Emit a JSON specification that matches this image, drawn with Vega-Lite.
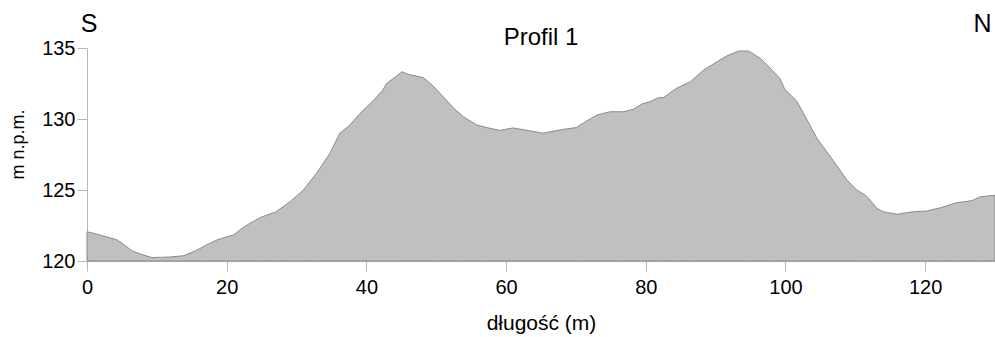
{
  "$schema": "https://vega.github.io/schema/vega-lite/v6.json",
  "width": 908,
  "height": 213,
  "autosize": {"type": "none"},
  "padding": {"left": 87, "top": 48, "right": 0, "bottom": 76},
  "background": "white",
  "title": {"text": "Profil 1", "fontSize": 24, "font": "Liberation Sans", "fontWeight": "normal", "color": "#000000", "anchor": "middle", "frame": "group", "baseline": "alphabetic", "offset": 2, "dy": 59},
  "config": {
    "view": {"stroke": null},
    "axis": {
      "labelFont": "Liberation Sans",
      "titleFont": "Liberation Sans",
      "labelColor": "#000000",
      "titleColor": "#000000",
      "titleFontWeight": "normal",
      "domainColor": "#b8b8b8",
      "tickColor": "#b8b8b8",
      "grid": false,
      "zindex": 1
    }
  },
  "layer": [
    {
      "data": {"values": [
        {"dist": 0, "elev": 122.06}, {"dist": 1.5, "elev": 121.88}, {"dist": 2.8, "elev": 121.7}, {"dist": 4.25, "elev": 121.5},
        {"dist": 5.3, "elev": 121.15}, {"dist": 6.4, "elev": 120.73}, {"dist": 7.6, "elev": 120.5}, {"dist": 9.3, "elev": 120.24},
        {"dist": 10.5, "elev": 120.26}, {"dist": 11.9, "elev": 120.28}, {"dist": 13.8, "elev": 120.37}, {"dist": 15.5, "elev": 120.7},
        {"dist": 17.1, "elev": 121.13}, {"dist": 18.6, "elev": 121.48}, {"dist": 20, "elev": 121.7}, {"dist": 21, "elev": 121.83},
        {"dist": 22, "elev": 122.23}, {"dist": 23.3, "elev": 122.65}, {"dist": 25, "elev": 123.1}, {"dist": 27, "elev": 123.45},
        {"dist": 29, "elev": 124.15}, {"dist": 31, "elev": 125.0}, {"dist": 33, "elev": 126.27}, {"dist": 34.8, "elev": 127.6},
        {"dist": 36.2, "elev": 129.0}, {"dist": 37.5, "elev": 129.5}, {"dist": 39.1, "elev": 130.4}, {"dist": 41, "elev": 131.3},
        {"dist": 42.3, "elev": 132.0}, {"dist": 42.9, "elev": 132.5}, {"dist": 43.9, "elev": 132.87}, {"dist": 45.1, "elev": 133.33},
        {"dist": 46, "elev": 133.15}, {"dist": 48.2, "elev": 132.9}, {"dist": 49.6, "elev": 132.3}, {"dist": 51, "elev": 131.57},
        {"dist": 52.5, "elev": 130.75}, {"dist": 53.9, "elev": 130.16}, {"dist": 55.8, "elev": 129.58}, {"dist": 57.2, "elev": 129.4},
        {"dist": 59.1, "elev": 129.2}, {"dist": 61, "elev": 129.37}, {"dist": 63, "elev": 129.2}, {"dist": 65.3, "elev": 129.0},
        {"dist": 68.2, "elev": 129.27}, {"dist": 70.1, "elev": 129.4}, {"dist": 70.6, "elev": 129.58}, {"dist": 73, "elev": 130.28},
        {"dist": 74.9, "elev": 130.51}, {"dist": 76.8, "elev": 130.51}, {"dist": 78.2, "elev": 130.68}, {"dist": 79.4, "elev": 131.05},
        {"dist": 80.6, "elev": 131.22}, {"dist": 81.8, "elev": 131.5}, {"dist": 82.5, "elev": 131.5}, {"dist": 84.4, "elev": 132.16},
        {"dist": 86.4, "elev": 132.63}, {"dist": 88.3, "elev": 133.45}, {"dist": 90.2, "elev": 134.03}, {"dist": 91.6, "elev": 134.44},
        {"dist": 93.3, "elev": 134.79}, {"dist": 94.7, "elev": 134.79}, {"dist": 96.4, "elev": 134.27}, {"dist": 98.3, "elev": 133.33},
        {"dist": 99.2, "elev": 132.86}, {"dist": 99.9, "elev": 132.09}, {"dist": 101.6, "elev": 131.27}, {"dist": 103.1, "elev": 129.93},
        {"dist": 104.5, "elev": 128.64}, {"dist": 106.5, "elev": 127.3}, {"dist": 108.8, "elev": 125.7}, {"dist": 110.2, "elev": 125.0},
        {"dist": 111.6, "elev": 124.58}, {"dist": 113.1, "elev": 123.71}, {"dist": 114, "elev": 123.47}, {"dist": 116, "elev": 123.29},
        {"dist": 118.3, "elev": 123.47}, {"dist": 120.2, "elev": 123.52}, {"dist": 122.2, "elev": 123.75}, {"dist": 124.5, "elev": 124.1},
        {"dist": 126.7, "elev": 124.25}, {"dist": 127.9, "elev": 124.53}, {"dist": 130, "elev": 124.63}
      ]},
      "mark": {"type": "area", "fill": "#c0c0c0", "stroke": "#8a8a8a", "strokeWidth": 1},
      "encoding": {
        "x": {"field": "dist", "type": "quantitative", "scale": {"domain": [0, 130], "nice": false, "zero": false},
          "axis": {"title": "długość (m)", "values": [0, 20, 40, 60, 80, 100, 120], "labelFontSize": 20, "titleFontSize": 21, "tickSize": 10, "labelPadding": 6, "labelFlush": false, "titlePadding": 15}},
        "y": {"field": "elev", "type": "quantitative", "scale": {"domain": [120, 135], "nice": false, "zero": false},
          "axis": {"title": "m n.p.m.", "values": [120, 125, 130, 135], "labelFontSize": 20, "titleFontSize": 18, "tickSize": 10, "labelPadding": 2, "titlePadding": 14, "titleY": 96}},
        "y2": {"datum": 120}
      }
    },
    {
      "data": {"values": [{"dist": 0.3, "label": "S"}, {"dist": 128.2, "label": "N"}]},
      "mark": {"type": "text", "fontSize": 25, "font": "Liberation Sans", "baseline": "alphabetic", "align": "center", "color": "#000000"},
      "encoding": {
        "x": {"field": "dist", "type": "quantitative"},
        "y": {"datum": 136.15, "type": "quantitative"},
        "text": {"field": "label"}
      }
    }
  ]
}
